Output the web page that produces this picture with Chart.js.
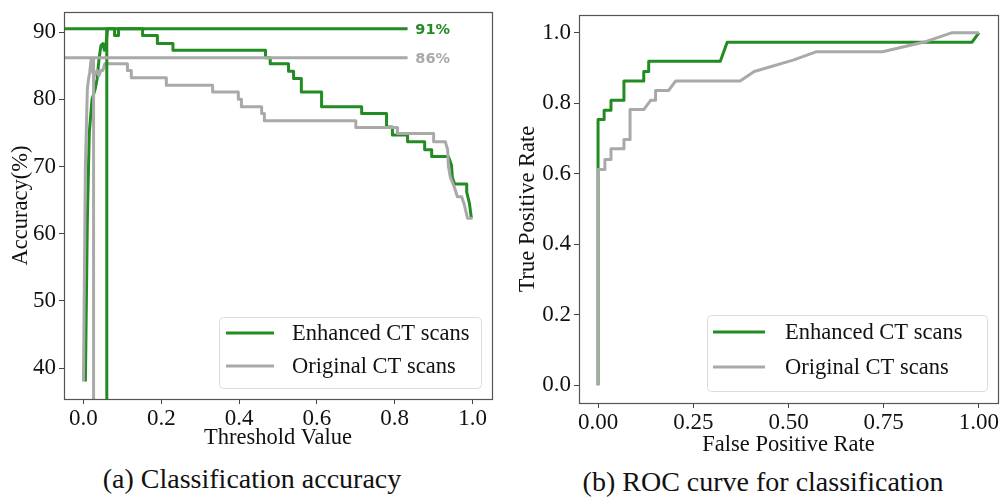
<!DOCTYPE html>
<html>
<head>
<meta charset="utf-8">
<title>Classification accuracy and ROC</title>
<script src="https://cdn.jsdelivr.net/npm/chart.js"></script>
<style>
  body { margin: 0; background: #fff; width: 1000px; height: 497px; position: relative; overflow: hidden; }
  canvas { position: absolute; top: 0; }
  #accChart { left: 0; }
  #rocChart { left: 500px; }
  .caption { position: absolute; font-family: "Liberation Serif", "Times New Roman", serif; font-size: 28px;
             line-height: 32px; color: #111; white-space: nowrap; transform: translateX(-50%); }
</style>
</head>
<body>
<canvas id="accChart" width="500" height="460"></canvas>
<canvas id="rocChart" width="500" height="460"></canvas>
<div class="caption" style="left:252px; top:463px">(a) Classification accuracy</div>
<div class="caption" style="left:763px; top:466px">(b) ROC curve for classification</div>

<script>
// ---- data ----
const seriesNames = ['Enhanced CT scans', 'Original CT scans'];

// (a) accuracy vs threshold
const accEnhX = [0.005, 0.010, 0.015, 0.022, 0.030, 0.035, 0.040, 0.045, 0.050, 0.054, 0.058, 0.062, 0.080, 0.080, 0.090, 0.090,
  0.152, 0.152, 0.190, 0.190, 0.230, 0.230, 0.468, 0.468, 0.480, 0.480, 0.527, 0.527, 0.540, 0.540, 0.560, 0.560,
  0.612, 0.612, 0.715, 0.715, 0.779, 0.779, 0.794, 0.794, 0.833, 0.833, 0.877, 0.877, 0.895, 0.895, 0.938, 0.946,
  0.948, 0.954, 0.985, 0.985, 0.992, 0.997];
const accEnhY = [38.0, 62.0, 75.0, 80.0, 81.5, 83.0, 86.0, 88.0, 88.3, 87.3, 88.3, 90.5, 90.5, 89.5, 89.5, 90.5,
  90.5, 89.5, 89.5, 88.3, 88.3, 87.3, 87.3, 86.2, 86.2, 85.3, 85.3, 84.2, 84.2, 83.1, 83.1, 81.1,
  81.1, 78.9, 78.9, 77.9, 77.9, 75.9, 75.9, 74.7, 74.7, 73.7, 73.7, 72.5, 72.5, 71.5, 71.5, 70.2,
  68.4, 67.4, 67.4, 66.2, 64.5, 62.3];

const accOrigX = [0.000, 0.005, 0.010, 0.013, 0.016, 0.020, 0.024, 0.028, 0.035, 0.040, 0.045, 0.050, 0.055, 0.113, 0.113, 0.123,
  0.123, 0.213, 0.213, 0.332, 0.332, 0.398, 0.398, 0.406, 0.406, 0.458, 0.458, 0.465, 0.465, 0.700, 0.700, 0.807,
  0.807, 0.900, 0.900, 0.930, 0.936, 0.938, 0.943, 0.954, 0.961, 0.972, 0.979, 0.987, 1.000];
const accOrigY = [38.0, 70.0, 81.5, 83.0, 84.0, 86.0, 84.0, 83.5, 84.3, 83.5, 84.3, 84.3, 85.3, 85.3, 84.3, 84.3,
  83.2, 83.2, 82.1, 82.1, 81.1, 81.1, 80.0, 80.0, 78.9, 78.9, 77.9, 77.9, 76.8, 76.8, 75.8, 75.8,
  74.9, 74.9, 73.7, 73.7, 72.5, 70.0, 68.4, 66.8, 65.5, 65.5, 64.3, 62.3, 62.3];

// best accuracy and the threshold where it is reached
const bestAcc = [90.5, 86.2];
const bestThreshold = [0.060, 0.026];
const bestLabels = ['91%', '86%'];
const bestLineEnd = 0.833;

const accXTicks = [0.0, 0.2, 0.4, 0.6, 0.8, 1.0];
const accYTicks = [40, 50, 60, 70, 80, 90];

// (b) ROC
const rocEnhX = [0, 0, 0, 0.016, 0.016, 0.034, 0.034, 0.068, 0.068, 0.120, 0.120, 0.133, 0.133, 0.321, 0.339, 0.982, 1.0];
const rocEnhY = [0, 0.621, 0.754, 0.754, 0.780, 0.780, 0.808, 0.808, 0.863, 0.863, 0.890, 0.890, 0.919, 0.919, 0.973, 0.973, 1.0];
const rocOrigX = [0, 0, 0.018, 0.018, 0.034, 0.034, 0.068, 0.068, 0.084, 0.084, 0.120, 0.138, 0.151, 0.151, 0.185, 0.204,
  0.373, 0.410, 0.512, 0.574, 0.747, 0.862, 0.930, 1.0];
const rocOrigY = [0, 0.612, 0.612, 0.640, 0.640, 0.671, 0.671, 0.697, 0.697, 0.782, 0.782, 0.808, 0.808, 0.836, 0.836, 0.863,
  0.863, 0.890, 0.922, 0.946, 0.946, 0.975, 1.0, 1.0];

const rocTicks = [0, 0.25, 0.5, 0.75, 1.0];
const rocYTicks = [0, 0.2, 0.4, 0.6, 0.8, 1.0];

// ---- styling ----
const GREEN = '#228b22';
const GRAY = '#a9a9a9';
const serif = '"Liberation Serif", "Times New Roman", serif';
const tickFont = { family: serif, size: 23 };
const titleFont = { family: serif, size: 22.5 };

function pts(xs, ys) { return xs.map((x, i) => ({ x: x, y: ys[i] })); }

function line(data, color, extra) {
  return Object.assign({
    data: data, borderColor: color, backgroundColor: color, borderWidth: 3,
    pointRadius: 0, showLine: true, tension: 0, borderJoinStyle: 'round', borderCapStyle: 'butt'
  }, extra || {});
}

function axis(min, max, ticks, fmt, title, titlePad, size, horizontal) {
  return {
    type: 'linear', min: min, max: max,
    afterBuildTicks: s => { s.ticks = ticks.map(v => ({ value: v })); },
    afterFit: s => {
      if (horizontal) { s.height = size; s.paddingLeft = 0; s.paddingRight = 0; }
      else { s.width = size; s.paddingTop = 0; s.paddingBottom = 0; }
    },
    ticks: { callback: v => v.toFixed(fmt), font: tickFont, color: '#111', padding: horizontal ? 1 : 3, maxRotation: 0, autoSkip: false },
    grid: { drawOnChartArea: false, drawTicks: true, tickLength: 5, color: '#444', lineWidth: 1 },
    border: { display: false },
    title: { display: true, text: title, font: titleFont, color: '#111', padding: titlePad }
  };
}

// frame, value labels, legend
const decor = {
  id: 'decor',
  afterDatasetsDraw(chart, args, opts) {
    const { ctx, chartArea: a, scales } = chart;
    ctx.save();
    ctx.strokeStyle = '#555';
    ctx.lineWidth = 1.2;
    ctx.strokeRect(a.left + 0.5, a.top + 0.5, a.right - a.left, a.bottom - a.top);

    (opts.labels || []).forEach(l => {
      ctx.fillStyle = l.color;
      ctx.font = 'bold 14.5px "DejaVu Sans", sans-serif';
      ctx.textBaseline = 'middle';
      ctx.textAlign = 'left';
      ctx.fillText(l.text, scales.x.getPixelForValue(l.x), scales.y.getPixelForValue(l.y));
    });

    const lg = opts.legend;
    if (lg) {
      const b = lg.box;
      ctx.beginPath();
      ctx.roundRect(b.x + 0.5, b.y + 0.5, b.w, b.h, 4);
      ctx.fillStyle = 'rgba(255,255,255,0.85)';
      ctx.fill();
      ctx.strokeStyle = '#dcdcdc';
      ctx.lineWidth = 1;
      ctx.stroke();
      const items = chart.data.datasets.filter(d => d.inLegend);
      items.forEach((d, i) => {
        const y = lg.rows[i];
        ctx.beginPath();
        ctx.moveTo(lg.x0, y);
        ctx.lineTo(lg.x1, y);
        ctx.strokeStyle = d.borderColor;
        ctx.lineWidth = 3;
        ctx.stroke();
        ctx.fillStyle = '#111';
        ctx.font = '22.5px ' + serif;
        ctx.textBaseline = 'middle';
        ctx.textAlign = 'left';
        ctx.fillText(d.label, lg.tx, y + 1);
      });
    }
    ctx.restore();
  }
};

const common = {
  responsive: false, animation: false, devicePixelRatio: 1,
  plugins: { legend: { display: false }, tooltip: { enabled: false } }
};

// ---- (a) accuracy ----
new Chart(document.getElementById('accChart'), {
  type: 'scatter',
  data: {
    datasets: [
      line(pts(accEnhX, accEnhY), GREEN, { label: seriesNames[0], inLegend: true, order: 3 }),
      line(pts(accOrigX, accOrigY), GRAY, { label: seriesNames[1], inLegend: true, order: 2 }),
      line(pts([-0.05, bestLineEnd], [bestAcc[0], bestAcc[0]]), GREEN, { order: 1 }),
      line(pts([-0.05, bestLineEnd], [bestAcc[1], bestAcc[1]]), GRAY, { order: 0 }),
      line(pts([bestThreshold[0], bestThreshold[0]], [30, bestAcc[0]]), GREEN, { order: 1 }),
      line(pts([bestThreshold[1], bestThreshold[1]], [30, bestAcc[1]]), GRAY, { order: 0 })
    ]
  },
  options: Object.assign({}, common, {
    layout: { padding: { top: 12, right: 8, left: 0, bottom: 0 } },
    scales: {
      x: axis(-0.05, 1.05, accXTicks, 1, 'Threshold Value', { top: 0, bottom: 8 }, 61, true),
      y: axis(35.4, 93, accYTicks, 0, 'Accuracy(%)', { top: 8, bottom: 0 }, 64, false)
    },
    plugins: Object.assign({}, common.plugins, {
      decor: {
        labels: [
          { text: bestLabels[0], x: bestLineEnd + 0.02, y: bestAcc[0] - 0.2, color: GREEN },
          { text: bestLabels[1], x: bestLineEnd + 0.02, y: bestAcc[1] - 0.2, color: GRAY }
        ],
        legend: { box: { x: 219, y: 317, w: 262, h: 71 }, x0: 226, x1: 274, tx: 292, rows: [333, 366] }
      }
    })
  }),
  plugins: [decor]
});

// ---- (b) ROC ----
new Chart(document.getElementById('rocChart'), {
  type: 'scatter',
  data: {
    datasets: [
      line(pts(rocEnhX, rocEnhY), GREEN, { label: seriesNames[0], inLegend: true, order: 1 }),
      line(pts(rocOrigX, rocOrigY), GRAY, { label: seriesNames[1], inLegend: true, order: 0 })
    ]
  },
  options: Object.assign({}, common, {
    layout: { padding: { top: 15, right: 2, left: 0, bottom: 0 } },
    scales: {
      x: axis(-0.05, 1.05, rocTicks, 2, 'False Positive Rate', { top: 0, bottom: 1.5 }, 57, true),
      y: axis(-0.05, 1.05, rocYTicks, 1, 'True Positive Rate', { top: 14.5, bottom: 0 }, 79, false)
    },
    plugins: Object.assign({}, common.plugins, {
      decor: {
        legend: { box: { x: 207, y: 315, w: 280, h: 76 }, x0: 213, x1: 265, tx: 285, rows: [332, 367] }
      }
    })
  }),
  plugins: [decor]
});
</script>
</body>
</html>
